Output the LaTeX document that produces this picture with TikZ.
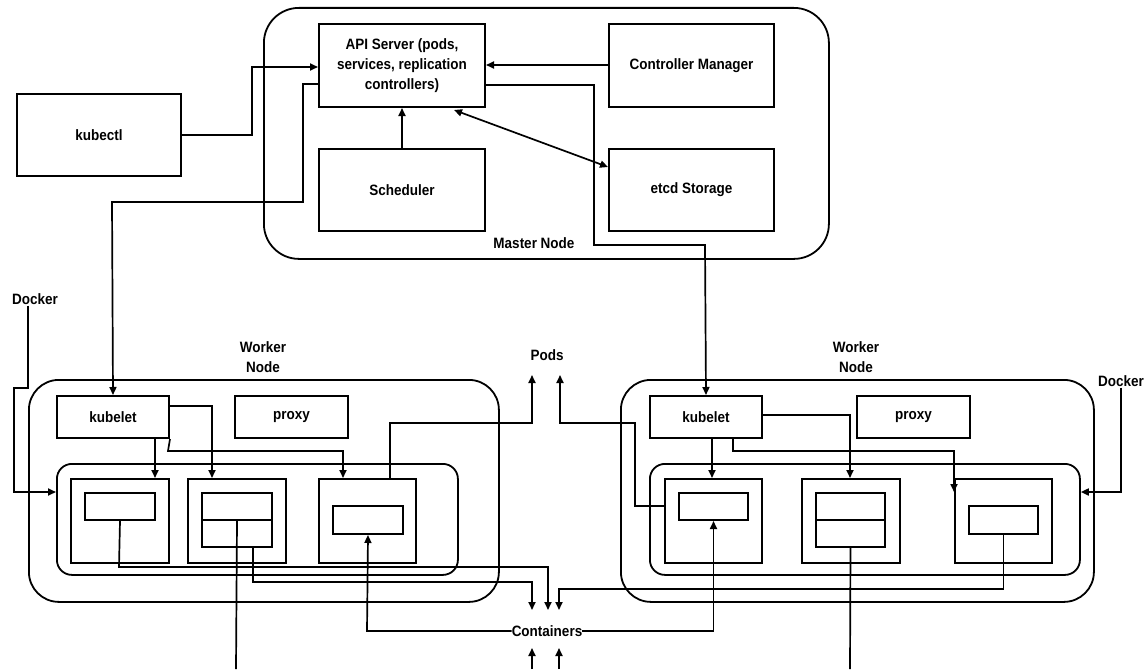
\documentclass[tikz,border=0pt]{standalone}
\usepackage{fontspec}
\setmainfont{Liberation Sans}[FakeStretch=0.9]
\usetikzlibrary{arrows.meta}
\newcommand\dgfont{\bfseries\fontsize{15}{20}\selectfont}
\begin{document}
\begin{tikzpicture}[x=1pt,y=-1pt,
  box/.style={draw, line width=2pt, anchor=north west, inner sep=0pt, align=center, font=\dgfont},
  group/.style={draw, line width=1.8pt, anchor=north west, inner sep=0pt},
  lbl/.style={font=\dgfont, align=center, inner sep=1pt},
  conn/.style={line width=1.7pt},
  arr/.style={line width=1.7pt, -{Triangle[length=8pt,width=7pt]}},
  darr/.style={line width=1.7pt, {Triangle[length=8pt,width=7pt]}-{Triangle[length=8pt,width=7pt]}}]
\useasboundingbox (0,0) rectangle (1148,669);

% master node
\node[group, rounded corners=35pt, minimum width=565pt, minimum height=251pt] (master) at (263,7) {};
\node[lbl] (masterlbl) at (534,243) {Master Node};
\node[box, minimum width=166pt, minimum height=83pt] (api) at (318,23) {API Server (pods,\\services, replication\\controllers)};
\node[box, minimum width=165pt, minimum height=83pt] (ctrl) at (608,23) {Controller Manager};
\node[box, minimum width=166pt, minimum height=82pt] (sched) at (318,148) {Scheduler};
\node[box, minimum width=165pt, minimum height=82pt] (etcd) at (608,148) {etcd Storage};
\node[box, minimum width=164pt, minimum height=82pt] (kubectl) at (16,93) {kubectl};

% left worker
\node[group, rounded corners=30pt, minimum width=470pt, minimum height=222pt] (wl) at (28,379) {};
\node[group, rounded corners=15pt, minimum width=401pt, minimum height=111pt] (inl) at (56,463) {};
\node[lbl] (wllbl) at (263,357) {Worker\\Node};
\node[box, minimum width=112pt, minimum height=42pt] (kl) at (56,395) {kubelet};
\node[box, minimum width=113pt, minimum height=42pt] (pl) at (234,395) {proxy};
\node[box, minimum width=98pt, minimum height=84pt] (p1l) at (70,478) {};
\node[box, minimum width=98pt, minimum height=84pt] (p2l) at (187,478) {};
\node[box, minimum width=97pt, minimum height=84pt] (p3l) at (318,478) {};
\node[box, minimum width=70pt, minimum height=27pt] (c1l) at (84,492) {};
\node[box, minimum width=70pt, minimum height=27pt] (c2al) at (201,492) {};
\node[box, minimum width=70pt, minimum height=27pt] (c2bl) at (201,519) {};
\node[box, minimum width=70pt, minimum height=28pt] (c3l) at (332,505) {};

% right worker
\node[group, rounded corners=30pt, minimum width=473pt, minimum height=222pt] (wr) at (620,379) {};
\node[group, rounded corners=15pt, minimum width=430pt, minimum height=111pt] (inr) at (649,463) {};
\node[lbl] (wrlbl) at (856,357) {Worker\\Node};
\node[box, minimum width=112pt, minimum height=42pt] (kr) at (649,395) {kubelet};
\node[box, minimum width=113pt, minimum height=42pt] (pr) at (856,395) {proxy};
\node[box, minimum width=97pt, minimum height=84pt] (p1r) at (664,478) {};
\node[box, minimum width=98pt, minimum height=84pt] (p2r) at (801,478) {};
\node[box, minimum width=97pt, minimum height=84pt] (p3r) at (954,478) {};
\node[box, minimum width=69pt, minimum height=27pt] (c1r) at (678,492) {};
\node[box, minimum width=69pt, minimum height=27pt] (c2ar) at (815,492) {};
\node[box, minimum width=69pt, minimum height=27pt] (c2br) at (815,519) {};
\node[box, minimum width=69pt, minimum height=28pt] (c3r) at (968,505) {};

% labels
\node[lbl] (dockl) at (35,299) {Docker};
\node[lbl] (dockr) at (1121,381) {Docker};
\node[lbl] (pods) at (547,355) {Pods};
\node[lbl, inner sep=0pt] (cont) at (547,631) {Containers};

\coordinate (podsa) at (532,375);
\coordinate (podsb) at (560,375);
\coordinate (conta) at (532,610);
\coordinate (contb) at (548,610);
\coordinate (contc) at (559,610);
\coordinate (contd) at (532,648);
\coordinate (conte) at (559,648);
\coordinate (bota) at (532,669);
\coordinate (botb) at (559,669);
\coordinate (botc) at (236,669);
\coordinate (botd) at (850,669);

% master connectors
\draw[arr] (kubectl.east) -- (kubectl.east -| 252,0) -- (252,67) -- (api.west |- 0,67);
\draw[arr] (ctrl.west |- 0,65) -- (api.east |- 0,65);
\draw[arr] (sched.north) -- (api.south);
\draw[darr] (454,110) -- (etcd.west |- 0,167);
\draw[arr] (api.west |- 0,84) -- (303,84) -- (303,202) -- (112,202) -- (kl.north);
\draw[arr] (api.east |- 0,85) -- (594,85) -- (594,245) -- (705,245) -- (kr.north);

% docker
\draw[arr] (dockl.south -| 28,0) -- (28,388) -- (14,388) -- (14,492) -- (inl.west |- 0,492);
\draw[arr] (dockr.south) -- (1121,492) -- (inr.east |- 0,492);

% left kubelet
\draw[arr] (kl.south -| 155,0) -- (p1l.north -| 155,0);
\draw[arr] (kl.east |- 0,406) -- (212,406) -- (p2l.north -| 212,0);
\draw[arr] (kl.south east) -- (168,451) -- (343,451) -- (p3l.north -| 343,0);

% right kubelet
\draw[arr] (kr.south -| 712,0) -- (p1r.north -| 712,0);
\draw[arr] (kr.east |- 0,415) -- (850,415) -- (p2r.north -| 850,0);
\draw[arr] (kr.south -| 733,0) -- (733,451) -- (954,451) -- (954,492);

% pods
\draw[arr] (p3l.north -| 390,0) -- (390,423) -- (532,423) -- (podsa);
\draw[arr] (p1r.west |- 0,506) -- (635,506) -- (635,423) -- (560,423) -- (podsb);

% containers
\draw[arr] (c1l.south) -- (119,567) -- (548,567) -- (contb);
\draw[arr] (c2bl.south -| 253,0) -- (253,582) -- (532,582) -- (conta);
\draw[arr] (c3r.south) -- (c3r.south |- 0,589) -- (559,589) -- (contc);
\draw[arr] (cont.west) -- (367,631) -- (c3l.south);
\draw[arr] (cont.east) -- (c1r.south |- 0,631) -- (c1r.south);
\draw[arr] (bota) -- (contd);
\draw[arr] (botb) -- (conte);
\draw[conn] (c2al.south) -- (botc);
\draw[conn] (c2br.south) -- (botd);
\end{tikzpicture}
\end{document}
